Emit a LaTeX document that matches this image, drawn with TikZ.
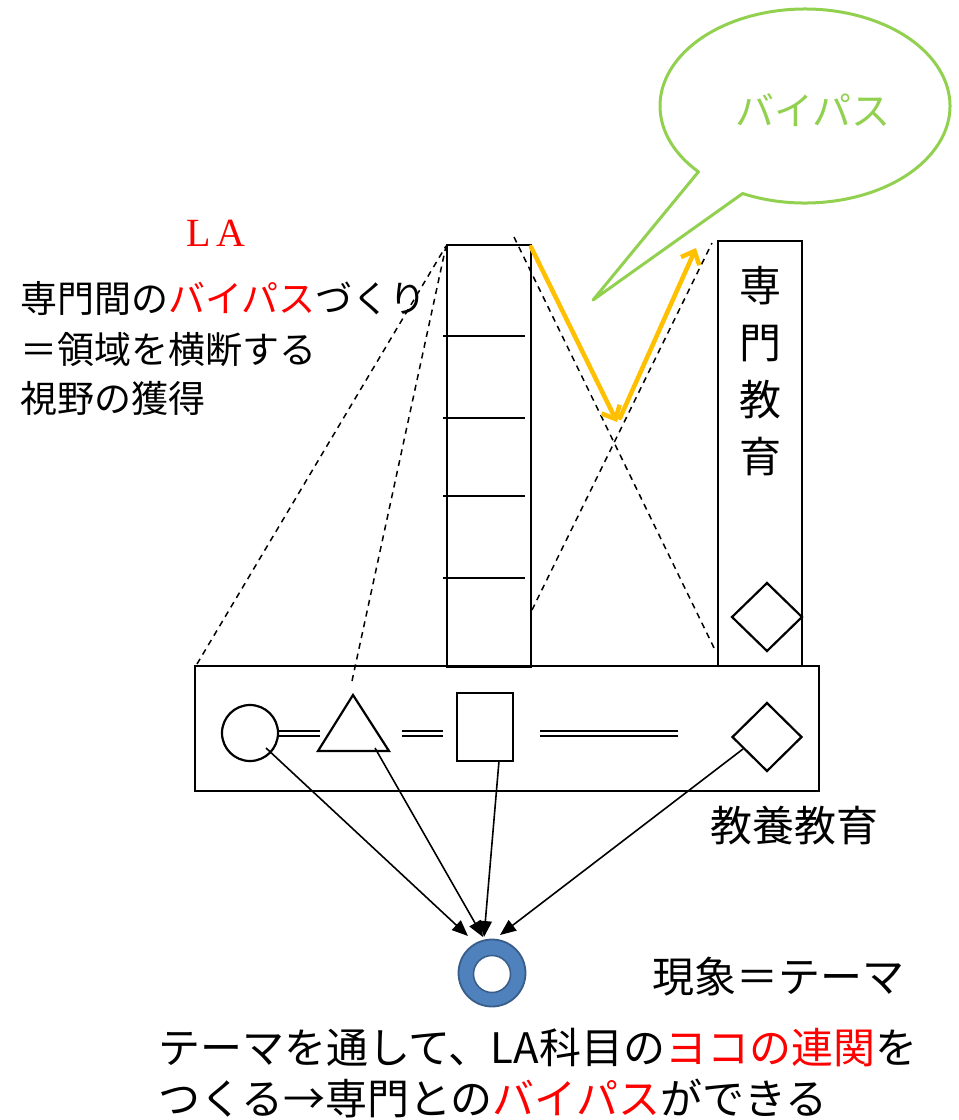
\documentclass[tikz,border=0pt]{standalone}
\usepackage{fontspec}
\setmainfont{Noto Sans CJK JP}
\newfontfamily\laserif{Liberation Serif}
\usetikzlibrary{arrows.meta,shapes.geometric,calc}
\definecolor{lared}{RGB}{255,0,0}
\definecolor{bgreen}{RGB}{146,208,80}
\definecolor{borange}{RGB}{255,192,0}
\definecolor{ringblue}{RGB}{79,129,189}
\definecolor{ringedge}{RGB}{56,93,138}
\tikzset{
  boxline/.style={draw, line width=2.2pt, inner sep=0pt, outer sep=0pt},
  dline/.style={dash pattern=on 6pt off 5pt, line width=1.5pt},
  conn/.style={line width=1.6pt, -{Triangle[length=16pt,width=13pt]}},
  byp/.style={borange, line width=4.5pt, line cap=round, -{Straight Barb[length=11pt,width=20pt]}},
  dbl/.style={line width=1.7pt},
  txt/.style={inner sep=0pt, anchor=west},
}
\begin{document}
\begin{tikzpicture}[x=1pt,y=-1pt]
\useasboundingbox (0,0) rectangle (959,1120);

% speech bubble
\coordinate (C) at (805,106);
\coordinate (T) at (593,300);
\draw[bgreen, line width=3pt, fill=white, line join=round]
  ($(C)+(222.7:145pt and 97pt)$) coordinate (bA) -- (T) --
  ($(C)+(244.5:145pt and 97pt)$) coordinate (bB)
  arc[start angle=244.5, end angle=582.7, x radius=145pt, y radius=97pt] -- cycle;
\node[text=bgreen, font=\fontsize{39}{39}\selectfont] (bubtxt) at (813,110) {バイパス};

% boxes
\node[boxline, minimum width=624, minimum height=125, anchor=north west] (base) at (195,666) {};
\node[boxline, minimum width=84, minimum height=422, anchor=north west] (col) at (447,245) {};
\node[boxline, minimum width=84, minimum height=425, anchor=north west] (spec) at (718,241) {};

% column dividers
\foreach \yy in {336,418,496,578} \draw[line width=2.2pt] (443,\yy) -- (525,\yy);

% vertical label
\node[font=\fontsize{42}{57}\selectfont, align=center, inner sep=0pt] (spectxt) at (760,371) {専\\門\\教\\育};

% shapes in specialist box and base box
\node[boxline, diamond, minimum width=70, minimum height=68] (dia2) at (767,617) {};
\node[boxline, circle, minimum size=56] (circ) at (250,733) {};
\coordinate (triL) at (318,751);
\coordinate (triT) at (353,695);
\coordinate (triR) at (389,751);
\draw[line width=2.2pt, line join=miter] (triL) -- (triT) -- (triR) -- cycle;
\node[boxline, minimum width=56, minimum height=68, anchor=north west] (rect) at (457,693) {};
\node[boxline, diamond, minimum width=69, minimum height=68] (dia1) at (767,737) {};

% double lines
\foreach \xa/\xb in {278/320, 402/443, 540/678} {
  \draw[dbl] (\xa,731) -- (\xb,731);
  \draw[dbl] (\xa,736) -- (\xb,736);
}

% dashed projection lines
\coordinate (colTL) at (446,246);
\coordinate (baseTL) at (197,664);
\coordinate (triTop) at (352,681);
\coordinate (d3a) at (514,237);
\coordinate (d3b) at (716,652);
\coordinate (d4a) at (532,610);
\coordinate (d4b) at (712,243);
\draw[dline] (baseTL) -- (colTL);
\draw[dline] (triTop) -- (colTL);
\draw[dline] (d3a) -- (d3b);
\draw[dline] (d4a) -- (d4b);

% orange bypass arrows
\coordinate (o1) at (531,247);
\coordinate (o2) at (617,422);
\coordinate (o3) at (620,418);
\coordinate (o4) at (696,248);
\draw[byp] (o1) -- (o2);
\draw[byp] (o3) -- (o4);

% ring
\node[circle, fill=ringblue, draw=ringedge, line width=1.8pt, minimum size=67, inner sep=0pt] (ring) at (492,973) {};
\node[circle, fill=white, draw=ringedge, line width=1.5pt, minimum size=37, inner sep=0pt] (ringin) at (492,974) {};

% arrows to ring
\coordinate (s1) at (266,748);
\coordinate (s2) at (375,748);
\coordinate (s3) at (499,761);
\coordinate (s4) at (743,749);
\coordinate (e1) at (468,936);
\coordinate (e2) at (483,937);
\coordinate (e3) at (484,937);
\coordinate (e4) at (500,935);
\draw[conn] (s1) -- (e1);
\draw[conn] (s2) -- (e2);
\draw[conn] (s3) -- (e3);
\draw[conn] (s4) -- (e4);

% texts
\node[text=lared, font=\laserif\fontsize{40}{40}\selectfont, inner sep=0pt] (la) at (216,233) {L\hspace{5pt}A};
\node[txt, font=\fontsize{37}{37}\selectfont] (t1) at (20,299) {専門間の\textcolor{lared}{バイパス}づくり};
\node[txt, font=\fontsize{37}{37}\selectfont] (t2) at (20,350) {＝領域を横断する};
\node[txt, font=\fontsize{37}{37}\selectfont] (t3) at (20,398) {視野の獲得};
\node[txt, font=\fontsize{42}{42}\selectfont] (kyo) at (710,826) {教養教育};
\node[txt, font=\fontsize{42}{42}\selectfont] (gen) at (652,977) {現象＝テーマ};
\node[txt, font=\fontsize{42}{42}\selectfont] (b1) at (158,1048) {テーマを通して、LA科目の\textcolor{lared}{ヨコの連関}を};
\node[txt, font=\fontsize{42}{42}\selectfont] (b2) at (158,1098) {つくる→専門との\textcolor{lared}{バイパス}ができる};
\end{tikzpicture}
\end{document}
